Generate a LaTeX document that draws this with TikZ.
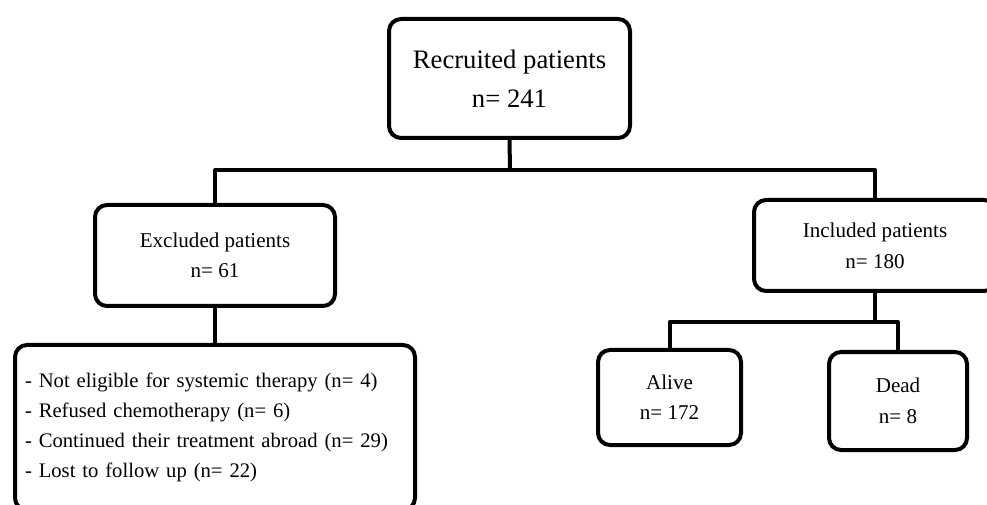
\documentclass[tikz,border=0pt]{standalone}
\usepackage{fontspec}
\setmainfont{Liberation Serif}
\begin{document}
\begin{tikzpicture}[x=0.75pt,y=-0.75pt,
  box/.style={draw=black,line width=3pt,rounded corners=9pt,fill=white,inner sep=0pt,align=center},
  conn/.style={draw=black,line width=3pt,line join=round}]
\clip (0,0) rectangle (987,505);
\fill[white] (0,0) rectangle (987,505);
% nodes
\node[box,minimum width=180.75pt,minimum height=89.25pt,font=\fontsize{20}{29.5}\selectfont] (top) at (509.5,78.5) {Recruited patients\\n= 241};
\node[box,minimum width=180pt,minimum height=75.75pt,font=\fontsize{15.8}{22.5}\selectfont] (excl) at (215,255.5) {Excluded patients\\n= 61};
\node[box,minimum width=181.5pt,minimum height=68.25pt,font=\fontsize{15.8}{23.5}\selectfont] (incl) at (875,245.5) {Included patients\\n= 180};
\node[box,minimum width=107.25pt,minimum height=71.25pt,font=\fontsize{15.8}{22.5}\selectfont] (alive) at (669.5,397.5) {Alive\\n= 172};
\node[box,minimum width=103.5pt,minimum height=73.5pt,font=\fontsize{15.8}{23.5}\selectfont] (dead) at (898,401) {Dead\\n= 8};
\node[box,minimum width=300pt,minimum height=123.75pt,text width=285pt,align=left,font=\fontsize{15.5}{22.5}\selectfont,inner xsep=0pt] (list) at (215,427.5) {- Not eligible for systemic therapy (n= 4)\\- Refused chemotherapy (n= 6)\\- Continued their treatment abroad (n= 29)\\- Lost to follow up (n= 22)};
% connectors
\coordinate (j1) at (510,170);
\coordinate (j2) at (875,322);
\draw[conn] (top.south) -- (j1);
\draw[conn] (excl.north) |- (j1) -| (incl.north);
\draw[conn] (excl.south) -- (list.north);
\draw[conn] (incl.south) -- (j2);
\draw[conn] (alive.north) |- (j2) -| (dead.north);
\end{tikzpicture}
\end{document}
